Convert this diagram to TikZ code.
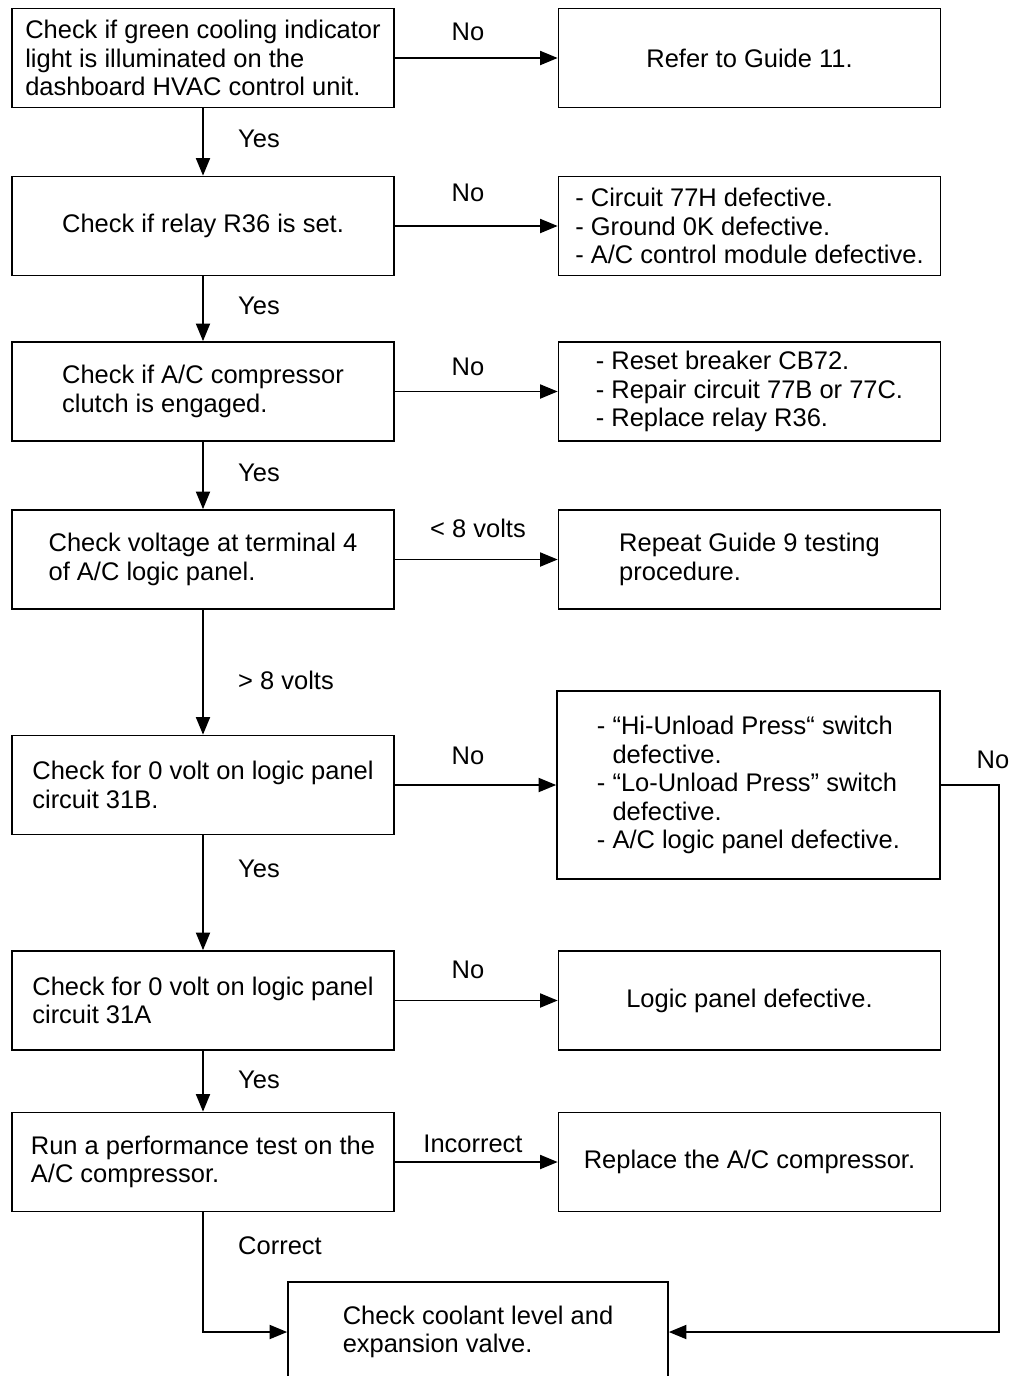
\documentclass[tikz,border=0pt]{standalone}
\usepackage{fontspec}
\setmainfont{Liberation Sans}
\usetikzlibrary{arrows.meta,positioning}

\tikzset{
  stepbox/.style={draw, line width=1pt, minimum width=7.64cm, minimum height=1.98cm, inner sep=0pt, align=left, font=\fontsize{14.5}{16.2}\selectfont},
  lbl/.style={inner sep=0pt, font=\fontsize{14.5}{16.2}\selectfont},
  flow/.style={line width=1pt, -{Triangle[length=10pt,width=8pt]}},
}

\begin{document}
\begin{tikzpicture}[x=0.02cm,y=-0.02cm]
\useasboundingbox (0,0) rectangle (1011,1376);

%left column
\node[stepbox] (light) at (203,58) {Check if green cooling indicator\\light is illuminated on the\\dashboard HVAC control unit.};
\node[stepbox] (relay) at (203,226) {Check if relay R36 is set.};
\node[stepbox] (clutch) at (203,391.5) {Check if A/C compressor\\clutch is engaged.};
\node[stepbox] (volt) at (203,559.5) {Check voltage at terminal 4\\of A/C logic panel.};
\node[stepbox] (ckb) at (203,785) {Check for 0 volt on logic panel\\circuit 31B.};
\node[stepbox] (cka) at (203,1000.5) {Check for 0 volt on logic panel\\circuit 31A};
\node[stepbox] (perf) at (203,1162) {Run a performance test on the\\A/C compressor.};

%right column
\node[stepbox] (guide) at (749.5,58) {Refer to Guide 11.};
\node[stepbox] (circ) at (749.5,226) {- Circuit 77H defective.\\- Ground 0K defective.\\- A/C control module defective.};
\node[stepbox] (breaker) at (749.5,391.5) {- Reset breaker CB72.\\- Repair circuit 77B or 77C.\\- Replace relay R36.};
\node[stepbox] (repeat) at (749.5,559.5) {Repeat Guide 9 testing\\procedure.};
\node[stepbox, minimum width=7.66cm, minimum height=3.76cm] (press) at (748.5,785) {- “Hi-Unload Press“ switch\\\phantom{- }defective.\\- “Lo-Unload Press” switch\\\phantom{- }defective.\\- A/C logic panel defective.};
\node[stepbox] (panel) at (749.5,1000.5) {Logic panel defective.};
\node[stepbox] (compr) at (749.5,1162) {Replace the A/C compressor.};

%coolant
\node[stepbox, minimum width=7.6cm, minimum height=2cm] (coolant) at (478,1332) {Check coolant level and\\expansion valve.};

%yes arrows
\draw[flow] (light) -- (relay);
\draw[flow] (relay) -- (clutch);
\draw[flow] (clutch) -- (volt);
\draw[flow] (volt) -- (ckb);
\draw[flow] (ckb) -- (cka);
\draw[flow] (cka) -- (perf);

%no arrows
\draw[flow] (light) -- (guide);
\draw[flow] (relay) -- (circ);
\draw[flow] (clutch) -- (breaker);
\draw[flow] (volt) -- (repeat);
\draw[flow] (ckb) -- (press);
\draw[flow] (cka) -- (panel);
\draw[flow] (perf) -- (compr);

%to coolant
\draw[flow] (perf.south) |- (coolant.west);
\draw[flow] (press.east) -- ++(58,0) |- (coolant.east);

%labels
\node[lbl] (no1) at (468,32) {No};
\node[lbl] (yes1) at (259,139) {Yes};
\node[lbl] (no2) at (468,193) {No};
\node[lbl] (yes2) at (259,306) {Yes};
\node[lbl] (no3) at (468,367) {No};
\node[lbl] (yes3) at (259,473) {Yes};
\node[lbl] (low) at (478,528) {< 8 volts};
\node[lbl] (high) at (286,680) {> 8 volts};
\node[lbl] (no5) at (468,756) {No};
\node[lbl] (no5r) at (993,760) {No};
\node[lbl] (yes5) at (259,869) {Yes};
\node[lbl] (no6) at (468,970) {No};
\node[lbl] (yes6) at (259,1080) {Yes};
\node[lbl] (bad) at (473,1144) {Incorrect};
\node[lbl] (good) at (280,1246) {Correct};

\end{tikzpicture}
\end{document}
